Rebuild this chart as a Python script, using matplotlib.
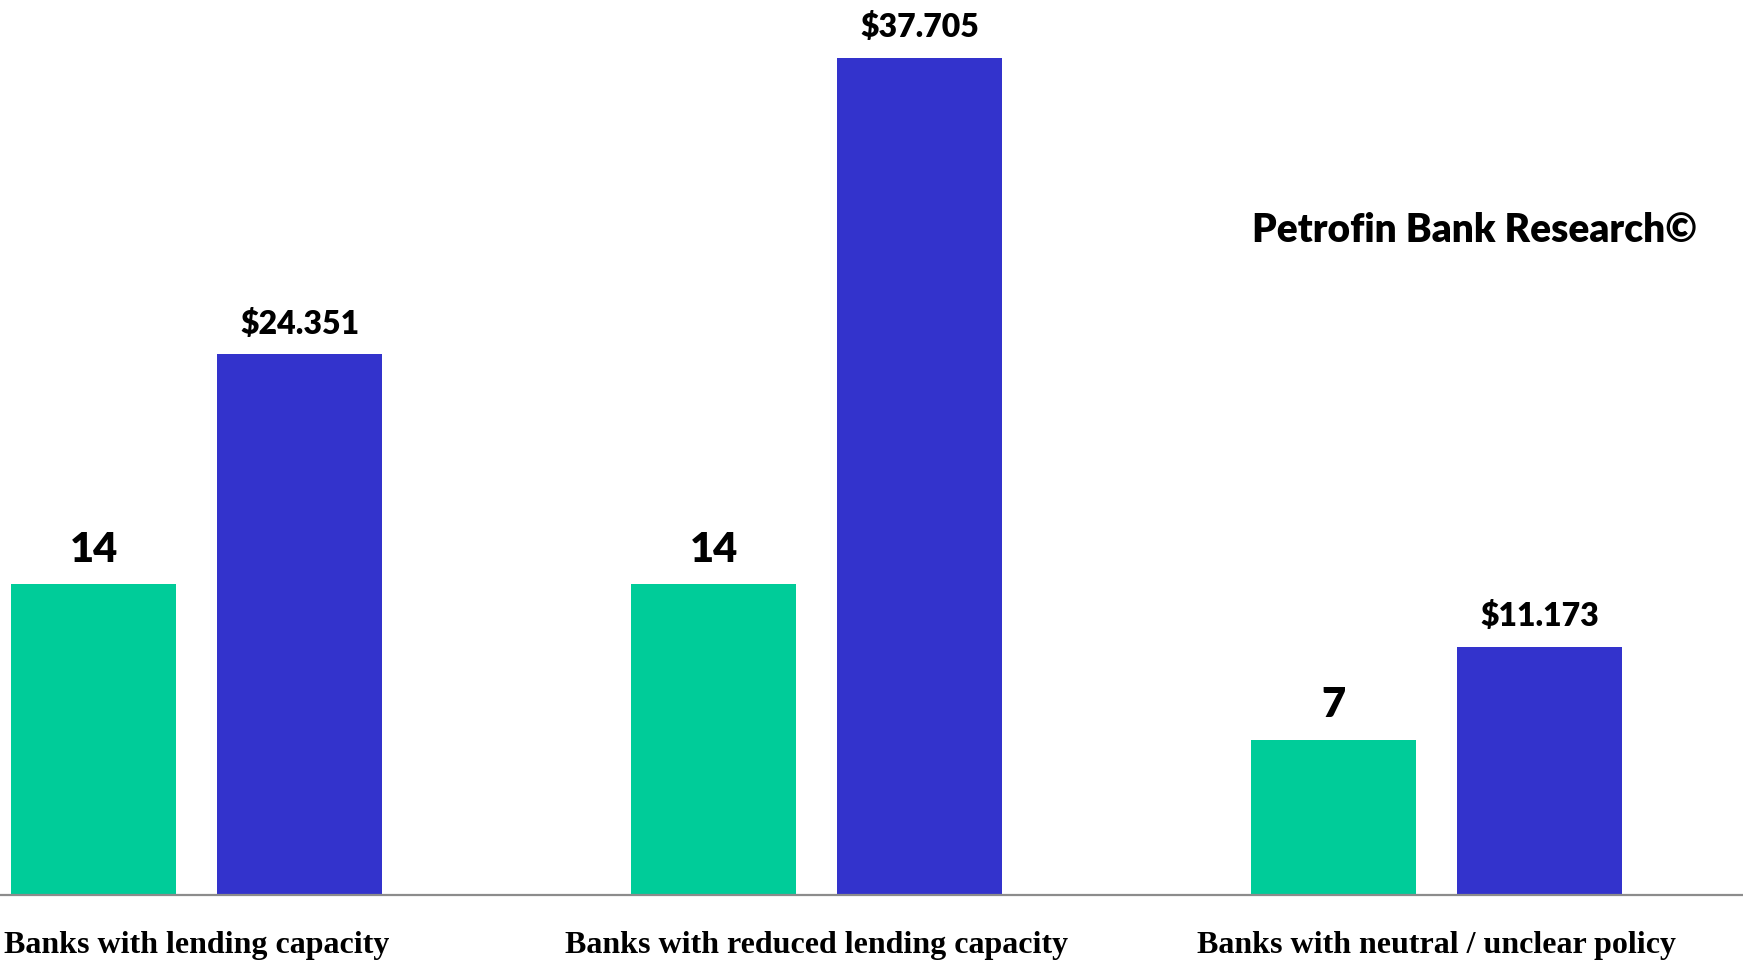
import matplotlib
matplotlib.use("Agg")
import matplotlib.pyplot as plt
from matplotlib.transforms import blended_transform_factory

categories = ["Banks with lending capacity", "Banks with reduced lending capacity",
              "Banks with neutral / unclear policy"]
bank_counts = [14, 14, 7]
loan_amounts = [24.351, 37.705, 11.173]
count_labels = ["14", "14", "7"]
amount_labels = ["$24.351", "$37.705", "$11.173"]

GREEN = "#00CC99"
BLUE = "#3333CC"
DPI = 100
fig = plt.figure(figsize=(17.43, 9.6), dpi=DPI)
ax = fig.add_axes([0, 65 / 960, 1, 895 / 960])

x = list(range(len(categories)))
w = 0.266
off = 0.166
xg = [i - off for i in x]
xb = [i + off for i in x]
ax.bar(xg, bank_counts, width=w, color=GREEN, zorder=2)
ax.bar(xb, loan_amounts, width=w, color=BLUE, zorder=2)

ax.set_xlim(-0.317, 2.494)
ax.set_ylim(0, 40.32)
for s in ["top", "right", "left"]:
    ax.spines[s].set_visible(False)
ax.spines["bottom"].set_color("#8c8c8c")
ax.spines["bottom"].set_linewidth(1.6)
ax.set_yticks([])
ax.set_xticks([])

lab_font = "Lato"
WEIGHT = "heavy"
for xi, v, t in zip(xg, bank_counts, count_labels):
    ax.annotate(t, xy=(xi, v), xytext=(0, 16), textcoords="offset points",
                ha="center", va="baseline", fontsize=30, fontweight=WEIGHT,
                family=lab_font, color="black")
for xi, v, t in zip(xb, loan_amounts, amount_labels):
    ax.annotate(t, xy=(xi, v), xytext=(0, 15), textcoords="offset points",
                ha="center", va="baseline", fontsize=23, fontweight=WEIGHT,
                family=lab_font, color="black")

trans = blended_transform_factory(ax.transData, ax.transAxes)
for xi, c in zip(x, categories):
    ax.annotate(c, xy=(xi, 0), xycoords=trans, xytext=(0, -42),
                textcoords="offset points", ha="center", va="baseline",
                fontsize=23, fontweight="bold", family="Liberation Serif",
                color="black", annotation_clip=False)

fig.text(0.846, 718 / 960, "Petrofin Bank Research©", ha="center", va="baseline",
         fontsize=28, fontweight=WEIGHT, family=lab_font, color="black")

fig.savefig("out.png", dpi=DPI)
